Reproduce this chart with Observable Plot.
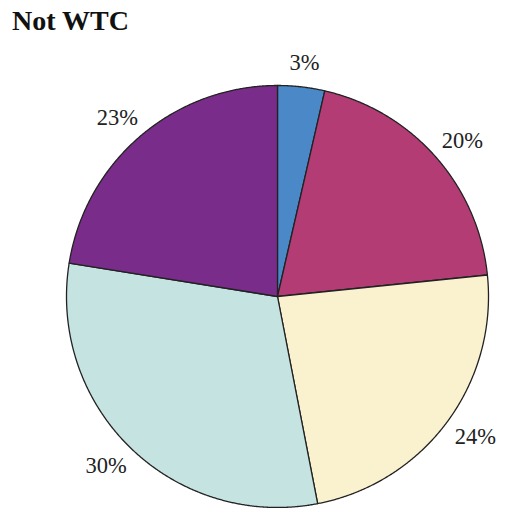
<!DOCTYPE html>
<html><head><meta charset="utf-8">
<script src="https://cdn.jsdelivr.net/npm/d3@7"></script>
<script src="https://cdn.jsdelivr.net/npm/@observablehq/plot@0.6"></script>
<style>
body{margin:0;background:#fff;}
#title{font-family:"Liberation Serif","Times New Roman",serif;font-weight:bold;font-size:28px;line-height:38px;height:38px;padding:2px 0 0 12px;color:#111;}
#chart svg{display:block;}
</style></head><body>
<div id="title">Not WTC</div>
<div id="chart"></div>
<script>
// Data (slices in clockwise order from 12 o'clock)
const categories = ["Slice 1","Slice 2","Slice 3","Slice 4","Slice 5"];
const values = [3.6, 19.8, 23.6, 30.6, 22.5];
const labels = ["3%","20%","24%","30%","23%"];
const colors = ["#4a88c8","#b33c75","#faf2cf","#c4e3e1","#7a2c8a"];

// Layout
const W = 509, H = 468, cx = 277, cy = 256, r = 211;
const pad = 14, halfH = 10;

const arcs = d3.pie().sort(null).value(d => d)(values);
const points = [];
arcs.forEach((a, i) => {
  const k = categories[i];
  points.push({k, color: colors[i], x: 0, y: 0});
  const n = Math.max(2, Math.ceil((a.endAngle - a.startAngle) / 0.005));
  for (let j = 0; j <= n; j++) {
    const t = a.startAngle + (a.endAngle - a.startAngle) * j / n;
    points.push({k, color: colors[i], x: Math.sin(t), y: Math.cos(t)});
  }
  points.push({k, color: colors[i], x: 0, y: 0});
});

const labelData = arcs.map((a, i) => {
  const m = (a.startAngle + a.endAngle) / 2;
  const s = Math.sin(m), c = Math.cos(m);
  const hw = labels[i].length * 7.2;
  const px = (r + pad) * s + s * hw;
  const py = (r + pad) * c + c * halfH;
  return {text: labels[i], x: px / r, y: py / r};
});

const chart = Plot.plot({
  width: W, height: H, margin: 0,
  x: {domain: [-cx / r, (W - cx) / r], axis: null},
  y: {domain: [-(H - cy) / r, cy / r], axis: null},
  color: {type: "identity"},
  style: {background: "#fff"},
  marks: [
    Plot.line(points, {x: "x", y: "y", z: "k", fill: "color", stroke: "#222", strokeWidth: 1.3, curve: "linear"}),
    Plot.text(labelData, {x: "x", y: "y", text: "text", fontSize: 22.5, fontFamily: "Liberation Serif, Times New Roman, serif", fill: "#222", textAnchor: "middle", lineAnchor: "middle"})
  ]
});
document.getElementById("chart").appendChild(chart);
</script>
</body></html>
